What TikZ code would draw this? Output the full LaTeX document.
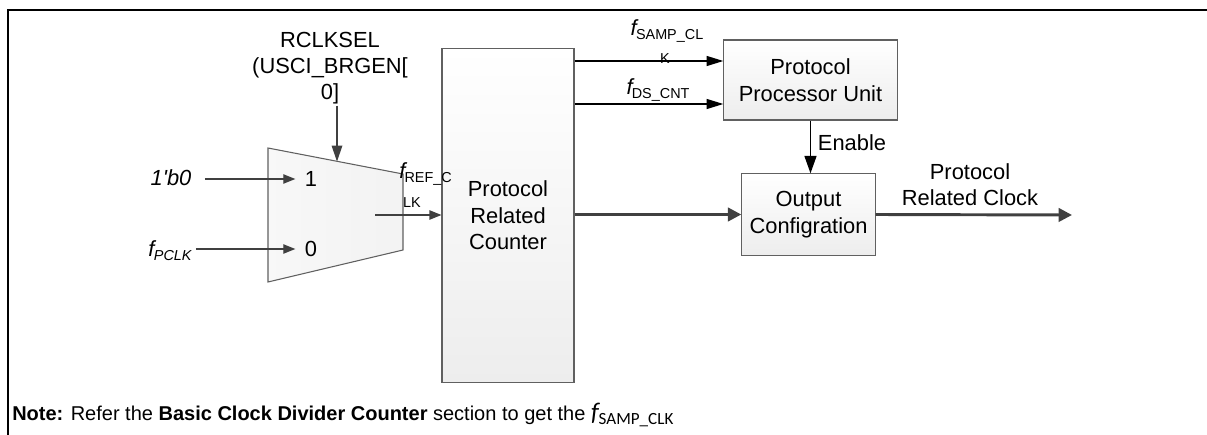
\documentclass[tikz,border=0pt]{standalone}
\usepackage{fontspec}
\setmainfont{Liberation Sans}
\newfontfamily\carlito{Carlito}
\usetikzlibrary{arrows.meta}
\definecolor{boxline}{HTML}{606060}
\definecolor{arr}{HTML}{404040}
\definecolor{boxfill}{HTML}{EDEDED}
\newcommand\freq[1]{\textit{f}\kern-2pt\raisebox{-3pt}{\fontsize{10.8}{13}\selectfont #1}}
\begin{document}
\begin{tikzpicture}[x=0.75pt,y=-0.75pt,
  lbl/.style={inner sep=0pt, font=\fontsize{16.4}{19.5}\selectfont, align=center},
  sublbl/.style={inner sep=0pt, font=\fontsize{10.8}{13}\selectfont},
  blk/.style={draw=boxline, line width=0.8pt, top color=white, bottom color=boxfill, inner sep=0pt, align=center, font=\fontsize{16.4}{20}\selectfont},
  garrow/.style={draw=arr, line width=0.9pt, -{Triangle[length=9pt,width=7pt]}},
  barrow/.style={draw=black, line width=0.9pt, -{Triangle[length=12.5pt,width=7.5pt]}},
  tarrow/.style={draw=arr, line width=2.2pt, -{Triangle[length=10pt,width=10pt]}},
  frame/.style={draw=black, line width=1.6pt}]
\useasboundingbox (0,0) rectangle (1207,435);
% frame
\draw[frame] (1207,10) -- (8,10) -- (8,435);
% mux
\path[draw=boxline, line width=0.8pt, left color=white!60!boxfill, right color=boxfill!70!white]
  (268,148) -- (403,174) -- (403,250) -- (268,282) -- cycle;
\coordinate (muxtop) at (337,161.5);
\coordinate (muxout) at (375,215);
\node[lbl] (rcl) at (330,68) {RCLKSEL\\(USCI\_BRGEN[\\0]};
\draw[garrow, -{Triangle[length=12pt,width=8pt]}] ([yshift=-1pt]rcl.south -| muxtop) -- (muxtop);
\node[lbl] (in1) at (311,179) {1};
\node[lbl] (in0) at (311,249) {0};
\node[lbl, font=\fontsize{16.4}{19.5}\selectfont\itshape] (b0) at (171,178) {1\textquotesingle b0};
\node[lbl, font=\fontsize{16.4}{19.5}\selectfont\itshape] (pclk) at (170,251) {\textit{f}\kern-0.5pt\raisebox{-3pt}{\fontsize{10.8}{12}\selectfont\itshape PCLK}};
\draw[garrow] ([xshift=10pt]b0.east |- in1) -- ([xshift=-7pt]in1.west);
\draw[garrow] ([xshift=3pt]pclk.east |- in0) -- ([xshift=-7pt]in0.west);
% blocks
\node[blk, minimum width=99pt, minimum height=251pt] (cnt) at (508,215.5) {Protocol\\Related\\Counter};
\node[blk, minimum width=130pt, minimum height=60pt] (ppu) at (810.5,80) {Protocol\\Processor Unit};
\node[blk, minimum width=100pt, minimum height=61pt] (oc) at (808.5,214.5) {Output\\Configration};
\draw[garrow] (muxout) -- (muxout -| cnt.west);
% f_REF_CLK
\node[lbl, anchor=west] (fref) at (399,174) {\freq{REF\_C}};
\node[sublbl] (lk) at (412,203) {LK};
% counter -> ppu
\coordinate (pa) at ([yshift=14.25pt]ppu.west);
\coordinate (pb) at ([yshift=-18pt]ppu.west);
\draw[barrow] (cnt.east |- pa) -- (pa);
\draw[barrow] (cnt.east |- pb) -- (pb);
\node[lbl] (fsamp) at (667,31) {\freq{SAMP\_CL}};
\node[sublbl] (k) at (665,59) {K};
\node[lbl] (fds) at (658,90) {\freq{DS\_CNT}};
% enable
\draw[draw=black, line width=0.9pt, -{Triangle[length=13pt,width=9pt]}] (ppu.south) -- (ppu.south |- oc.north);
\node[lbl] (en) at (852,143) {Enable};
% main path
\draw[tarrow] (cnt.east |- oc.west) -- (oc.west);
\coordinate (out) at (1072,215);
\draw[tarrow] (oc.east) -- (out);
\node[lbl] (prc) at (970,185) {Protocol\\Related Clock};
% note
\node[anchor=west, inner sep=0pt, font=\fontsize{15}{17}\selectfont] (note) at (12,415)
  {\textbf{Note:} Refer the \textbf{Basic Clock Divider Counter} section to get the {\carlito\fontsize{19}{20}\selectfont\itshape f}\raisebox{-3pt}{\carlito\fontsize{12.8}{14}\selectfont SAMP\_CLK}};
\end{tikzpicture}
\end{document}
